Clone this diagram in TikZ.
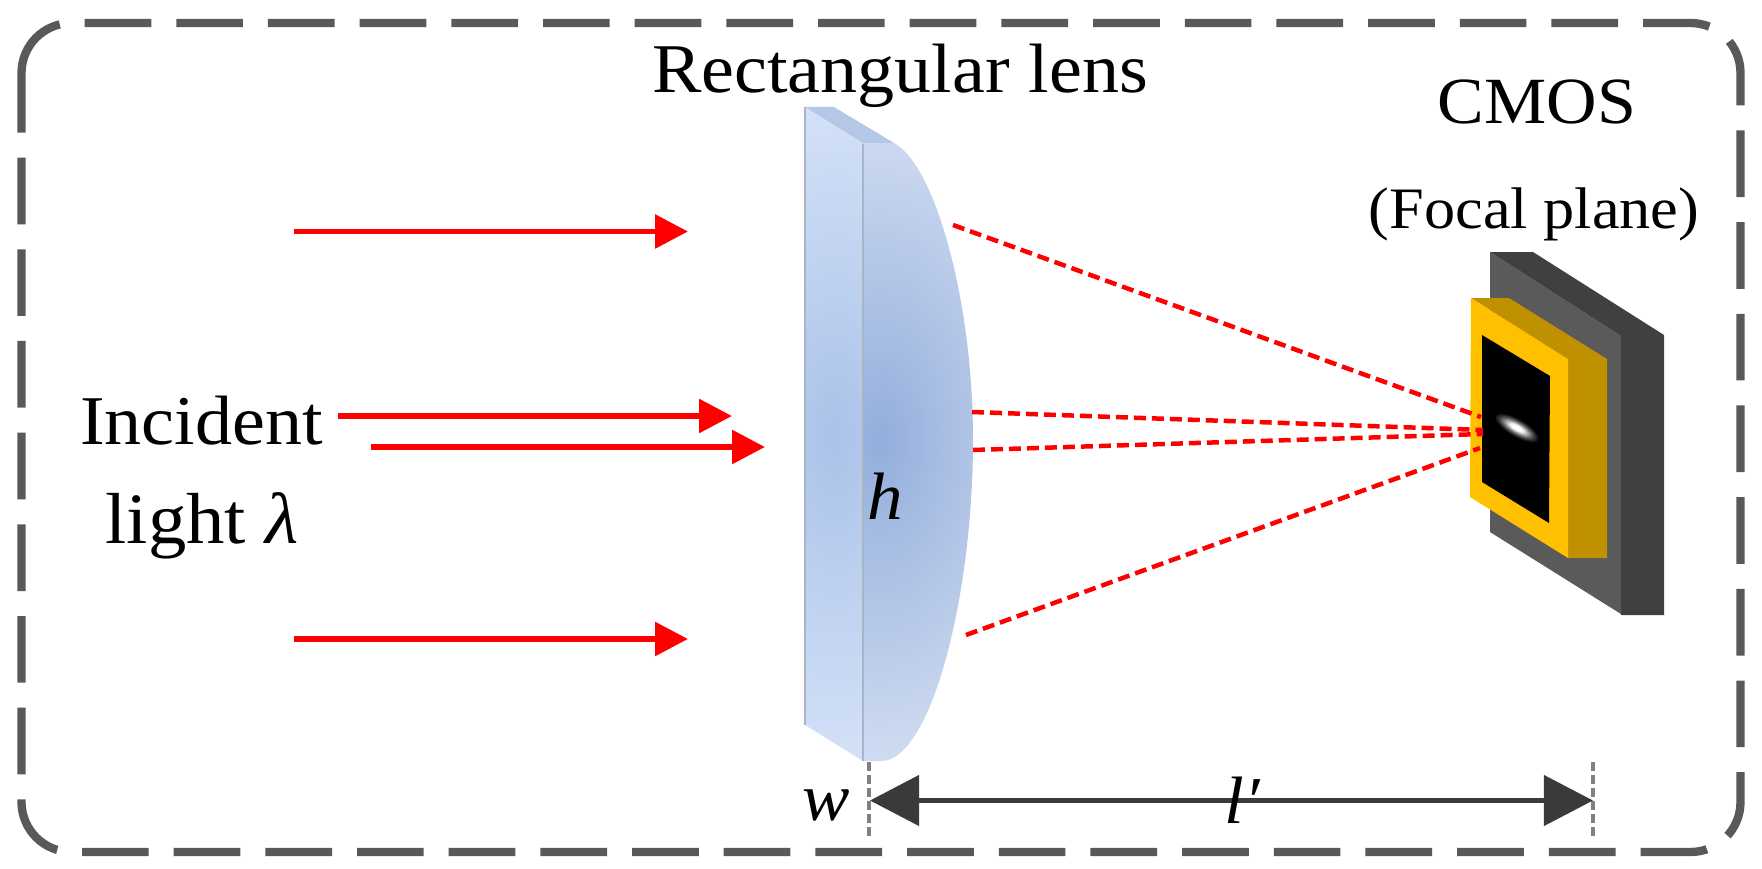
\documentclass[tikz,border=0pt]{standalone}
\usepackage{fontspec}
\setmainfont[FakeStretch=1.06]{Liberation Serif}
\usetikzlibrary{arrows.meta,shadings}
\definecolor{dimc}{HTML}{3B3A38}
\definecolor{framec}{HTML}{595959}
\definecolor{lensA}{HTML}{A9C2E8}
\definecolor{lensB}{HTML}{D5E2F8}
\definecolor{lensC}{HTML}{93AEDC}
\definecolor{lensD}{HTML}{D6E0F3}
\definecolor{lensT}{HTML}{B4C7E7}
\definecolor{lensE}{HTML}{A9B4C6}
\definecolor{sensG}{HTML}{5A5A5A}
\definecolor{sensD}{HTML}{404040}
\definecolor{sensS}{HTML}{BF9000}
\definecolor{sensY}{HTML}{FFC000}
\tikzset{
  lab/.style={inner sep=0pt,anchor=base,text=black,font=\fontsize{#1}{40}\selectfont},
  lab/.default=37,
  ray/.style={draw=red,line width=3.4pt,-{Triangle[length=18.7pt,width=18.7pt]}},
  beam/.style={draw=red,line width=2.55pt,dash pattern=on 6.8pt off 3.4pt},
  guide/.style={draw=gray,line width=2.27pt,dash pattern=on 5.1pt off 2.27pt},
  dim/.style={draw=dimc,line width=2.6pt,{Triangle[length=27.8pt,width=28.3pt]}-{Triangle[length=27.8pt,width=28.3pt]}},
}
\begin{document}
\begin{tikzpicture}[x=0.5669pt,y=-0.5669pt]
\useasboundingbox (0,0) rectangle (1762,869);
% frame
\draw[framec,line width=4.72pt,rounded corners=28.35pt,dash pattern=on 37.8pt off 14.17pt]
  (21.5,73) -- (21.5,23) -- (1740.5,23) -- (1740.5,852) -- (21.5,852) -- (21.5,73);
% lens
\begin{scope}
  \clip (805,107) -- (863,143) -- (863,761) -- (805,725) -- cycle;
  \shade[inner color=lensA,outer color=lensB] (834,435) ellipse [x radius=150,y radius=340];
\end{scope}
\begin{scope}
  \clip (863,143) -- (894,143) .. controls (935,165) and (973,300) .. (973,440)
     .. controls (973,600) and (930,760) .. (882,761) -- (863,761) -- cycle;
  \shade[inner color=lensC,outer color=lensD] (880,440) ellipse [x radius=210,y radius=355];
\end{scope}
\fill[lensT] (805,107) -- (834,107) -- (894,143) -- (863,143) -- cycle;
\draw[lensE,line width=0.9pt] (805,107) -- (805,725);
\draw[lensE,line width=0.9pt] (863,144) -- (863,761);
% sensor
\fill[sensG] (1490,252) -- (1621,336) -- (1621,614) -- (1490,532) -- cycle;
\fill[sensD] (1490,252) -- (1533,252) -- (1664,335) -- (1664,615) -- (1621,615) -- (1621,336) -- cycle;
\fill[sensS] (1471,298) -- (1509,298) -- (1607,359) -- (1607,558) -- (1568,558) -- (1568,359) -- cycle;
\fill[sensY] (1471,298) -- (1568,359) -- (1568,558) -- (1470,497) -- cycle;
\fill[black] (1482,335) -- (1550,376) -- (1549,523) -- (1482,482) -- cycle;
\foreach \ra/\rb/\g in {24/8.5/90,22/7.5/82,20/6.8/72,18/6/62,16/5.2/50,14/4.5/38,12/3.8/26,10/3.2/14,8/2.6/5,6/2/0}{
  \fill[black!\g!white,rotate around={-30:(1517,428)}] (1517,428) ellipse [x radius=\ra,y radius=\rb];
}
% rays
\coordinate (r1a) at (294,231.5); \coordinate (r1b) at (688,231.5);
\coordinate (r2a) at (338,416);   \coordinate (r2b) at (732,416);
\coordinate (r3a) at (371,447);   \coordinate (r3b) at (765,447);
\coordinate (r4a) at (294,639);   \coordinate (r4b) at (688,639);
\draw[ray] (r1a) -- (r1b);
\draw[ray] (r2a) -- (r2b);
\draw[ray] (r3a) -- (r3b);
\draw[ray] (r4a) -- (r4b);
\coordinate (b1a) at (953,225); \coordinate (b1b) at (1481,417);
\coordinate (b2a) at (972,412); \coordinate (b2b) at (1483,430);
\coordinate (b3a) at (973,450); \coordinate (b3b) at (1483,434);
\coordinate (b4a) at (966,635); \coordinate (b4b) at (1480,448);
\draw[beam] (b1a) -- (b1b);
\draw[beam] (b2a) -- (b2b);
\draw[beam] (b3a) -- (b3b);
\draw[beam] (b4a) -- (b4b);
% dimension
\coordinate (g1a) at (869,762); \coordinate (g1b) at (869,837);
\coordinate (g2a) at (1593,762); \coordinate (g2b) at (1593,837);
\draw[guide] (g1a) -- (g1b);
\draw[guide] (g2a) -- (g2b);
\coordinate (d1) at (870,800.5); \coordinate (d2) at (1593,800.5);
\draw[dim] (d1) -- (d2);
% labels
\node[lab=39.6] (tlens) at (900,93) {Rectangular lens};
\node[lab=37.4] (tcmos) at (1537,124) {CMOS};
\node[lab=33.3] (tfocal) at (1534,228) {(Focal plane)};
\node[lab=39.6] (tinc) at (201.5,444) {Incident};
\node[lab=41] (tlight) at (202,543) {light \textit{λ}};
\node[lab=38] (th) at (885,519) {\textit{h}};
\node[lab=38] (tw) at (826,820) {\textit{w}};
\node[lab=38] (tl) at (1243,823) {\textit{l′}};
\end{tikzpicture}
\end{document}
